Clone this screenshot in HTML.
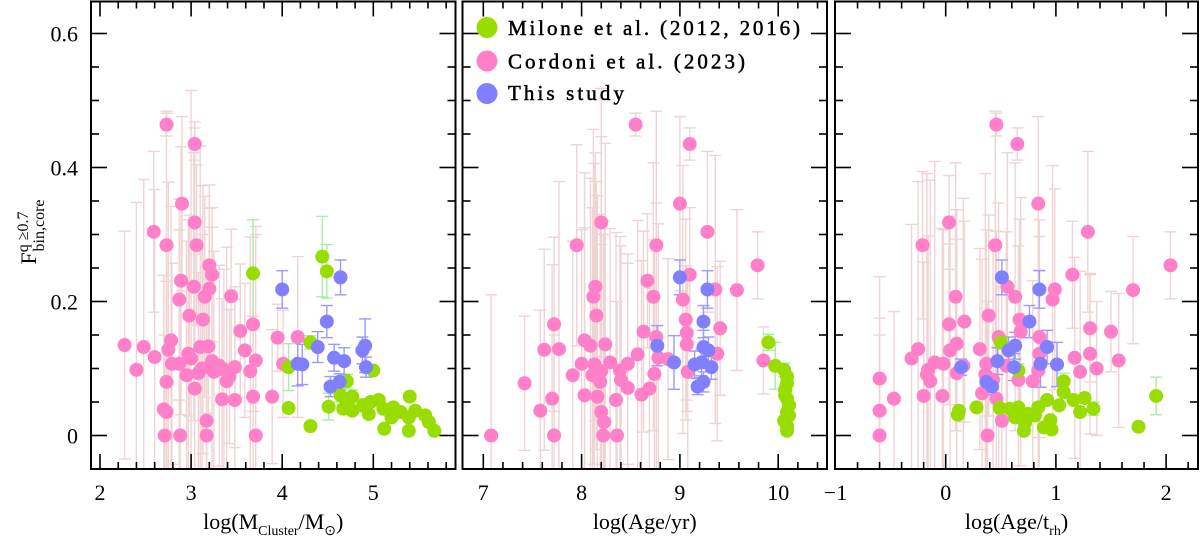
<!DOCTYPE html>
<html><head><meta charset="utf-8"><style>
html,body{margin:0;padding:0;background:#fff;width:1200px;height:539px;overflow:hidden}
svg text{font-family:"Liberation Serif",serif;fill:#000}
</style></head><body>
<svg id="chart" width="1200" height="539" viewBox="0 0 1200 539" xmlns="http://www.w3.org/2000/svg">
<g id="bars"></g><g id="pts"></g><g id="axes"></g>
<g transform="translate(36,232) rotate(-90)">
<text x="0" y="0" text-anchor="middle" font-size="22">F<tspan font-size="16" dy="-8">q ≥0.7</tspan><tspan font-size="16" dx="-40" dy="16">bin,core</tspan></text>
</g>
<g>
<circle cx="487" cy="27.5" r="10.5" fill="#99dd00"/>
<text x="508" y="35" font-size="21" stroke="#000" stroke-width="0.5" textLength="292" lengthAdjust="spacing">Milone et al. (2012, 2016)</text>
<circle cx="487" cy="61" r="10.5" fill="#ff80c8"/>
<text x="508" y="68.5" font-size="21" stroke="#000" stroke-width="0.5" textLength="237" lengthAdjust="spacing">Cordoni et al. (2023)</text>
<circle cx="487" cy="93.5" r="10.5" fill="#7f7fff"/>
<text x="508" y="100" font-size="21" stroke="#000" stroke-width="0.5" textLength="116" lengthAdjust="spacing">This study</text>
</g>
</svg>
<script>
// Panel 1: log(M/Msun)
const p1PinkX=[2.73,3.04,2.90,3.04,2.59,2.73,3.06,3.20,3.23,2.89,3.03,3.20,3.15,3.44,2.87,2.98,3.13,3.68,3.54,3.95,4.17,2.27,2.48,2.78,2.75,2.60,2.97,3.10,3.19,3.59,3.71,2.40,2.79,2.87,3.23,3.31,3.48,3.65,4.01,2.95,3.08,3.39,3.04,2.73,3.34,3.48,3.68,3.89,2.70,2.73,3.17,2.71,2.88,3.17,3.71,3.0,3.12,3.25,3.36,3.42];
const p1PinkY=[0.464,0.435,0.346,0.318,0.304,0.284,0.284,0.254,0.240,0.231,0.222,0.219,0.207,0.208,0.203,0.179,0.173,0.166,0.156,0.146,0.147,0.135,0.132,0.142,0.128,0.117,0.122,0.132,0.133,0.127,0.112,0.098,0.107,0.107,0.111,0.104,0.102,0.096,0.107,0.090,0.093,0.081,0.070,0.080,0.054,0.053,0.058,0.058,0.039,0.035,0.022,0,0,0,0,0.115,0.100,0.095,0.098,0.088];
const p1PinkErr=[0.017,0.024,0.13,0.15,0.12,0.2,0.12,0.12,0.1,0.2,0.2,0.12,0.15,0.1,0.15,0.15,0.2,0.13,0.1,0.05,0.12,0.17,0.25,0.2,0.25,0.25,0.2,0.3,0.1,0.1,0.2,0.25,0.15,0.2,0.2,0.15,0.12,0.2,0.08,0.2,0.15,0.2,0.2,0.15,0.15,0.15,0.12,0.1,0.2,0.25,0.1,0.15,0.2,0.25,0.3,0.4,0.2,0.18,0.15,0.1];
const p1GreenX=[3.68,4.44,4.49,4.31,4.07,5.00,4.71,4.07,4.31,4.51,4.64,4.71,4.77,4.67,4.77,4.89,4.97,5.06,4.95,5.11,5.22,5.30,5.40,5.46,5.39,5.12,5.39,5.57,5.61,5.67,5.20];
const p1GreenY=[0.242,0.267,0.245,0.139,0.102,0.097,0.081,0.041,0.014,0.043,0.060,0.053,0.058,0.040,0.037,0.045,0.050,0.053,0.032,0.040,0.042,0.035,0.058,0.037,0.027,0.010,0.007,0.030,0.020,0.007,0.027];
const p1GreenErr=[0.08,0.06,0.04,0.01,0.035,0.005,0.01,0.005,0.005,0.02,0.01,0.01,0.01,0.005,0.005,0.01,0.005,0.005,0.005,0.005,0.005,0.005,0.005,0.005,0.005,0.005,0.005,0.005,0.005,0.005,0.005];
const p1BlueX=[4.00,4.64,4.49,4.39,4.17,4.22,4.57,4.68,4.91,4.88,4.92,4.53,4.63];
const p1BlueY=[0.218,0.236,0.170,0.132,0.107,0.106,0.116,0.111,0.134,0.127,0.102,0.073,0.080];
const p1BlueErr=[0.028,0.026,0.024,0.023,0.033,0.03,0.02,0.02,0.04,0.02,0.015,0.015,0.012];
// Panel 2: log(Age/yr)
const p2PinkX=[8.55,9.10,9.00,8.20,9.28,7.95,8.76,9.79,9.10,8.67,9.58,9.36,8.14,8.12,8.73,9.03,8.15,9.06,7.72,9.41,8.63,9.07,8.03,8.76,7.62,7.77,8.09,8.24,9.07,8.57,9.38,9.85,8.00,8.13,8.29,8.47,8.88,8.78,7.91,8.11,8.20,8.39,8.74,9.08,7.42,8.40,8.19,8.47,8.69,8.61,8.03,8.16,8.35,7.70,7.58,8.20,8.23,7.08,7.72,8.22,8.36];
const p2PinkY=[0.464,0.435,0.346,0.318,0.304,0.284,0.284,0.254,0.240,0.231,0.217,0.218,0.222,0.207,0.207,0.203,0.179,0.173,0.166,0.160,0.155,0.153,0.142,0.147,0.128,0.129,0.134,0.136,0.136,0.121,0.122,0.112,0.107,0.106,0.109,0.107,0.114,0.116,0.090,0.090,0.096,0.097,0.092,0.095,0.078,0.083,0.080,0.071,0.070,0.061,0.060,0.058,0.053,0.055,0.037,0.035,0.020,0,0,0,0];
const p2PinkErr=[0.017,0.024,0.13,0.2,0.12,0.15,0.2,0.05,0.1,0.1,0.12,0.2,0.2,0.25,0.2,0.2,0.2,0.15,0.13,0.1,0.15,0.1,0.25,0.2,0.15,0.25,0.25,0.3,0.1,0.2,0.13,0.05,0.2,0.3,0.2,0.15,0.15,0.2,0.2,0.25,0.35,0.2,0.2,0.15,0.1,0.2,0.25,0.2,0.15,0.2,0.25,0.3,0.25,0.2,0.15,0.25,0.3,0.21,0.15,0.3,0.2];
const p2GreenX=[9.90,9.97,10.06,10.09,10.07,10.09,10.11,10.09,10.06,10.09,10.09,10.07,10.11,10.09];
const p2GreenY=[0.139,0.104,0.098,0.078,0.068,0.055,0.045,0.035,0.022,0.014,0.007,0.060,0.030,0.088];
const p2GreenErr=[0.012,0.035,0.01,0.01,0.008,0.005,0.005,0.005,0.005,0.005,0.005,0.005,0.005,0.005];
const p2BlueX=[9.00,9.28,9.24,8.77,9.24,9.29,8.94,9.15,9.22,9.32,9.24,9.18];
const p2BlueY=[0.236,0.218,0.170,0.134,0.132,0.127,0.109,0.106,0.109,0.102,0.080,0.073];
const p2BlueErr=[0.026,0.028,0.024,0.03,0.025,0.02,0.04,0.02,0.02,0.018,0.015,0.012];
// Panel 3: log(Age/t_rh)
const p3PinkX=[0.46,0.65,0.84,0.03,1.29,-0.21,0.45,2.04,1.15,1.70,0.56,0.99,0.63,0.09,0.97,0.39,0.67,0.03,1.31,0.68,1.50,0.48,0.85,0.10,-0.25,0.31,0.04,1.31,0.85,-0.31,1.17,1.57,-0.10,-0.02,0.16,0.37,0.55,1.37,-0.16,0.10,0.84,1.22,-0.17,0.36,-0.60,0.66,-0.14,0.79,0.43,0.33,-0.20,-0.03,-0.47,0.46,-0.60,0.51,-0.60,0.17,0.38];
const p3PinkY=[0.464,0.435,0.346,0.318,0.304,0.284,0.284,0.254,0.240,0.217,0.222,0.218,0.207,0.207,0.203,0.179,0.173,0.166,0.160,0.155,0.155,0.147,0.147,0.137,0.129,0.129,0.127,0.122,0.122,0.115,0.116,0.112,0.109,0.107,0.104,0.107,0.104,0.100,0.098,0.093,0.097,0.095,0.091,0.091,0.085,0.083,0.081,0.081,0.083,0.063,0.059,0.059,0.055,0.055,0.037,0.022,0,0.17,0];
const p3PinkErr=[0.017,0.024,0.13,0.07,0.12,0.11,0.2,0.05,0.08,0.08,0.2,0.15,0.2,0.2,0.2,0.15,0.15,0.12,0.08,0.2,0.06,0.2,0.15,0.2,0.25,0.15,0.2,0.12,0.2,0.2,0.15,0.1,0.3,0.2,0.25,0.2,0.2,0.1,0.2,0.2,0.15,0.15,0.3,0.3,0.09,0.2,0.3,0.15,0.2,0.2,0.2,0.25,0.13,0.25,0.2,0.2,0.15,0.15,0.2];
const p3GreenX=[0.50,0.66,1.07,1.07,1.26,1.16,1.03,0.92,0.84,1.34,1.22,1.91,1.75,0.28,0.12,0.11,0.49,0.58,0.66,0.63,0.72,0.71,0.81,0.89,0.95,0.96,0.75];
const p3GreenY=[0.139,0.097,0.081,0.065,0.056,0.053,0.045,0.053,0.042,0.040,0.035,0.059,0.013,0.042,0.037,0.031,0.041,0.040,0.042,0.027,0.019,0.007,0.030,0.012,0.023,0.009,0.032];
const p3GreenErr=[0.01,0.01,0.012,0.01,0.005,0.005,0.005,0.005,0.005,0.01,0.005,0.028,0.005,0.005,0.005,0.005,0.005,0.005,0.005,0.005,0.005,0.005,0.005,0.005,0.005,0.005,0.005];
const p3BlueX=[0.51,0.85,0.76,0.63,0.92,0.57,0.47,0.86,1.01,0.62,0.14,0.37,0.42];
const p3BlueY=[0.236,0.218,0.170,0.134,0.132,0.127,0.111,0.107,0.106,0.102,0.102,0.080,0.073];
const p3BlueErr=[0.026,0.028,0.024,0.02,0.025,0.02,0.02,0.035,0.033,0.02,0.012,0.015,0.012];
const yTickLabels=["0","0.2","0.4","0.6"];
const p1Ticks=["2","3","4","5"], p2Ticks=["7","8","9","10"], p3Ticks=["−1","0","1","2"];

const NS="http://www.w3.org/2000/svg";
const Y0=435.5, YS=670, TOP=1.5, BOT=469;
const yPx=v=>Y0-v*YS;
const panels=[
 {name:'mass',x0:91,x1:455.5,px:v=>100+(v-2)*91.1,tickVals:[2,3,4,5],labels:p1Ticks,
  title:'log(M<tspan font-size="14" dy="6">Cluster</tspan><tspan dy="-6">/M</tspan><tspan font-size="14" dy="6">⊙</tspan><tspan dy="-6">)</tspan>',
  sets:[[p1PinkX,p1PinkY,p1PinkErr,'pink'],[p1GreenX,p1GreenY,p1GreenErr,'green'],[p1BlueX,p1BlueY,p1BlueErr,'blue']]},
 {name:'age',x0:462.5,x1:827,px:v=>483.3+(v-7)*98.3,tickVals:[7,8,9,10],labels:p2Ticks,
  title:'log(Age/yr)',
  sets:[[p2PinkX,p2PinkY,p2PinkErr,'pink'],[p2GreenX,p2GreenY,p2GreenErr,'green'],[p2BlueX,p2BlueY,p2BlueErr,'blue']]},
 {name:'age-trh',x0:835,x1:1198,px:v=>945.7+v*110.2,tickVals:[-1,0,1,2],labels:p3Ticks,
  title:'log(Age/t<tspan font-size="14" dy="6">rh</tspan><tspan dy="-6">)</tspan>',
  sets:[[p3PinkX,p3PinkY,p3PinkErr,'pink'],[p3GreenX,p3GreenY,p3GreenErr,'green'],[p3BlueX,p3BlueY,p3BlueErr,'blue']]}
];
const fill={pink:'#ff80c8',green:'#99dd00',blue:'#7f7fff'};
const ebc={pink:'#f0d4d4',green:'#a8eea8',blue:'#9a9aff'};
const bars=document.getElementById('bars'),pts=document.getElementById('pts'),axes=document.getElementById('axes');
function mk(tag,attrs,parent){const e=document.createElementNS(NS,tag);for(const k in attrs)e.setAttribute(k,attrs[k]);parent.appendChild(e);return e;}
const clampY=y=>Math.max(TOP,Math.min(BOT,y));
['pink','green','blue'].forEach(series=>{
 panels.forEach(p=>{
  p.sets.filter(s=>s[3]===series).forEach(([xs,ys,es])=>{
   xs.forEach((xv,i)=>{
    const cx=p.px(xv),cy=yPx(ys[i]),e=es[i]!==undefined?es[i]:0.1;
    const yh=yPx(ys[i]+e),yl=yPx(ys[i]-e);
    const g=mk('g',{},bars);
    
    
    mk('line',{x1:cx,x2:cx,y1:clampY(yh),y2:clampY(yl),stroke:ebc[series],'stroke-width':1.4},g);
    if(yh>TOP) mk('line',{x1:cx-6,x2:cx+6,y1:yh,y2:yh,stroke:ebc[series],'stroke-width':1.4},g);
    if(yl<BOT) mk('line',{x1:cx-6,x2:cx+6,y1:yl,y2:yl,stroke:ebc[series],'stroke-width':1.4},g);
    const c=mk('circle',{cx:cx,cy:cy,r:7,fill:fill[series]},pts);
    
    
   });
  });
 });
});
panels.forEach(p=>{
 const f=mk('rect',{x:p.x0,y:TOP,width:p.x1-p.x0,height:BOT-TOP,fill:'none',stroke:'#000','stroke-width':2},axes);
 
 
 for(let t=-10;t<=60;t++){
  const v=t/5,x=p.px(v);if(x<p.x0+3||x>p.x1-3)continue;
  const major=(t%5===0),L=major?15:7;
  mk('line',{x1:x,x2:x,y1:BOT,y2:BOT-L,stroke:'#000','stroke-width':1.6},axes);
  mk('line',{x1:x,x2:x,y1:TOP,y2:TOP+L,stroke:'#000','stroke-width':1.6},axes);
 }
 for(let t=-0;t<=13;t++){
  const v=t*0.05,y=yPx(v);if(y<TOP+3)continue;const L=(t%4===0)?16:8;
  mk('line',{x1:p.x0,x2:p.x0+L,y1:y,y2:y,stroke:'#000','stroke-width':1.6},axes);
  mk('line',{x1:p.x1,x2:p.x1-L,y1:y,y2:y,stroke:'#000','stroke-width':1.6},axes);
 }
 p.tickVals.forEach((v,i)=>{
  const t=mk('text',{x:p.px(v),y:500,'text-anchor':'middle','font-size':22},axes);
  t.textContent=p.labels[i];
  
  
 });
 const tt=mk('text',{x:(p.x0+p.x1)/2,y:529,'text-anchor':'middle','font-size':22},axes);
 tt.innerHTML=p.title;
 
 
});
yTickLabels.forEach((lab,i)=>{
 const t=mk('text',{x:78,y:yPx(i*0.2)+8,'text-anchor':'end','font-size':22},axes);
 t.textContent=lab;
 
 
});
</script>
</body></html>
